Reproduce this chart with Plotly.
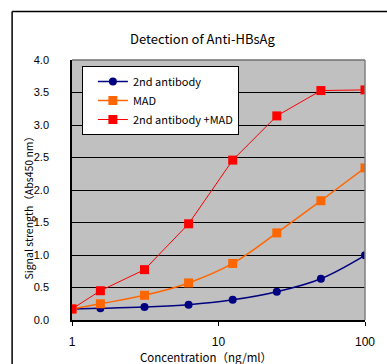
import plotly.graph_objects as go

conc = [1, 1.5625, 3.125, 6.25, 12.5, 25, 50, 100]
second_ab = [0.17, 0.18, 0.20, 0.235, 0.31, 0.435, 0.635, 0.995]
mad = [0.17, 0.25, 0.38, 0.57, 0.87, 1.34, 1.835, 2.34]
second_ab_mad = [0.17, 0.45, 0.775, 1.48, 2.46, 3.14, 3.53, 3.54]

y_ticks = [0, 0.5, 1.0, 1.5, 2.0, 2.5, 3.0, 3.5, 4.0]
x_ticks = [1, 10, 100]

FONT = "Noto Sans CJK JP"
NUMFONT = "Liberation Sans Narrow, Liberation Sans, Noto Sans CJK JP"

fig = go.Figure()
fig.add_trace(go.Scatter(x=conc, y=second_ab, name="2nd antibody", mode="lines+markers",
                         line=dict(color="#000080", width=1.5, shape="spline"),
                         marker=dict(symbol="circle", size=8, color="#000080")))
fig.add_trace(go.Scatter(x=conc, y=mad, name="MAD", mode="lines+markers",
                         line=dict(color="#FF6600", width=1.5, shape="spline"),
                         marker=dict(symbol="square", size=9, color="#FF6600")))
fig.add_trace(go.Scatter(x=conc, y=second_ab_mad, name="2nd antibody +MAD", mode="lines+markers",
                         line=dict(color="#FF0000", width=1),
                         marker=dict(symbol="square", size=9, color="#FF0000")))

W, H = 387, 364
L, R, T, B = 72, 368, 60, 320

def px_x(p):
    return (p - L) / (R - L)

def px_y(p):
    return (B - p) / (B - T)

fig.update_layout(
    width=W, height=H,
    margin=dict(l=L, r=W - R, t=T, b=H - B),
    paper_bgcolor="white",
    plot_bgcolor="#C0C0C0",
    font=dict(family=FONT, size=12, color="black"),
    showlegend=True,
    legend=dict(x=px_x(82), y=px_y(66), xanchor="left", yanchor="top",
                bgcolor="white", bordercolor="black", borderwidth=1,
                font=dict(family=FONT, size=11), tracegroupgap=0,
                itemwidth=30, indentation=10),
    xaxis=dict(type="log", range=[0, 2], tickvals=x_ticks, ticktext=[str(v) for v in x_ticks],
               showgrid=False, zeroline=False, showline=True, linecolor="black", linewidth=1.5,
               ticks="outside", ticklen=4, tickcolor="black", ticklabelstandoff=6,
               tickfont=dict(family=NUMFONT, size=12)),
    yaxis=dict(range=[0, 4], tickvals=y_ticks, ticktext=[f"{v:.1f}" for v in y_ticks],
               showgrid=True, gridcolor="black", gridwidth=1, zeroline=False,
               showline=True, linecolor="black", linewidth=1.5, ticks="",
               ticklabelstandoff=19, tickfont=dict(family=NUMFONT, size=11)),
    annotations=[
        dict(text="Detection of Anti-HBsAg", xref="paper", yref="paper",
             x=px_x(204), y=px_y(38), showarrow=False, xanchor="center", yanchor="middle",
             font=dict(family=FONT, size=13)),
        dict(text="Signal strength（Abs450 nm）", xref="paper", yref="paper",
             x=px_x(28), y=px_y(205), showarrow=False, textangle=-90,
             xanchor="center", yanchor="middle", font=dict(family=FONT, size=10.5)),
        dict(text="Concentration（ng/ml）", xref="paper", yref="paper",
             x=px_x(207), y=px_y(357), showarrow=False, xanchor="center", yanchor="middle",
             font=dict(family=FONT, size=11.5)),
    ],
    shapes=[
        # outer chart frame
        dict(type="line", xref="paper", yref="paper", x0=px_x(11.5), y0=px_y(11.5),
             x1=px_x(400), y1=px_y(11.5), line=dict(color="black", width=1.5)),
        dict(type="line", xref="paper", yref="paper", x0=px_x(11.5), y0=px_y(11.5),
             x1=px_x(11.5), y1=px_y(370), line=dict(color="black", width=1.5)),
        # plot area top/right border
        dict(type="line", xref="paper", yref="paper", x0=0, y0=1, x1=1, y1=1,
             line=dict(color="#707070", width=1.5)),
        dict(type="line", xref="paper", yref="paper", x0=1, y0=0, x1=1, y1=1,
             line=dict(color="#808080", width=1.5)),
    ],
)

fig.write_html("out.html", config={"displayModeBar": False},
               post_script="document.body.style.margin='0px';document.body.style.overflow='hidden';")
